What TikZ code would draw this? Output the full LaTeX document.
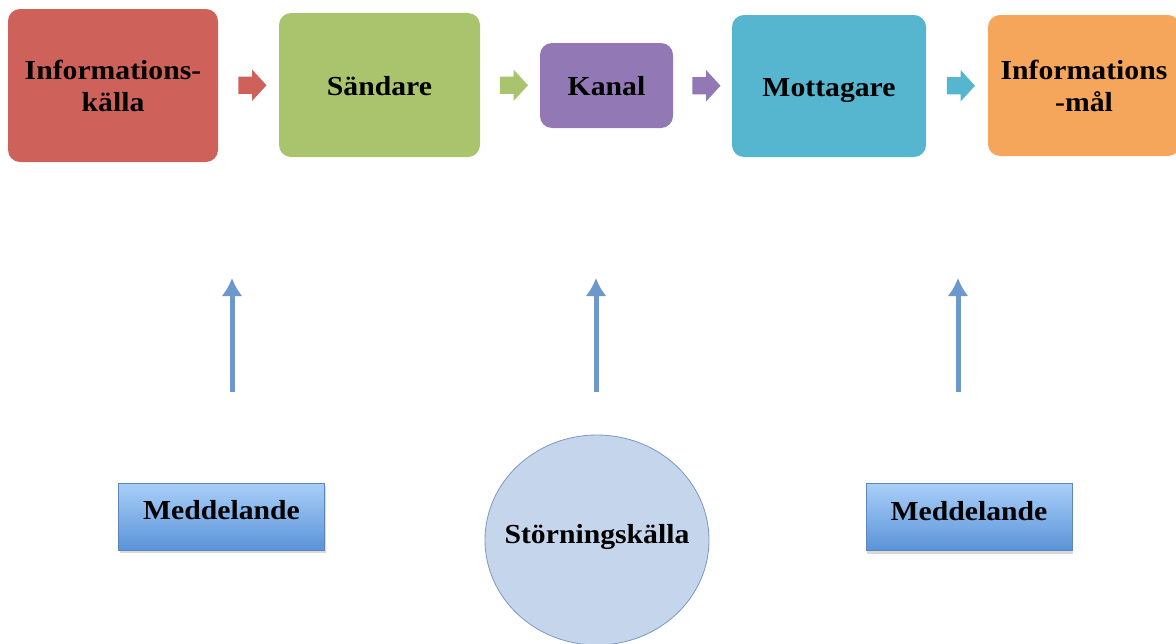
\documentclass[tikz,border=0pt]{standalone}
\usepackage{fontspec}
\setmainfont{Liberation Serif}[FakeStretch=1.08]
\usetikzlibrary{shapes.arrows,shapes.geometric,arrows.meta,shadows}
\definecolor{cred}{HTML}{CE625B}
\definecolor{cgreen}{HTML}{A9C46C}
\definecolor{cpurple}{HTML}{9279B5}
\definecolor{ccyan}{HTML}{57B6CF}
\definecolor{corange}{HTML}{F5A65A}
\definecolor{cup}{HTML}{6D98CC}
\definecolor{mtop}{HTML}{A9CFF8}
\definecolor{mbot}{HTML}{5A93D8}
\definecolor{mborder}{HTML}{5E86B8}
\definecolor{cfill}{HTML}{C5D6EC}
\definecolor{cborder}{HTML}{7A98C2}
\tikzset{
  lbl/.style={font=\fontsize{27.5}{32}\selectfont\bfseries, text=black, align=center},
  topbox/.style={lbl, rounded corners=12pt, inner sep=0pt},
  oneline/.style={text height=20pt, text depth=0pt},
  flowarrow/.style={single arrow, inner xsep=0pt, inner ysep=8.5pt, minimum height=28pt,
    minimum width=31pt, single arrow head extend=7pt, single arrow tip angle=95},
  upconn/.style={cup, line width=5pt, -{Latex[length=18pt,width=21pt]}},
  msgbox/.style={lbl, draw=mborder, line width=0.6pt, top color=mtop, bottom color=mbot,
    inner sep=0pt, minimum width=206pt, minimum height=67pt, text height=20pt, text depth=14pt,
    drop shadow={shadow xshift=1pt, shadow yshift=-3pt, opacity=0.3}},
}
\begin{document}
\begin{tikzpicture}[x=1pt,y=-1pt]
\useasboundingbox[fill=white] (0,0) rectangle (1176,643);
% top row
\node[topbox, fill=cred, minimum width=210pt, minimum height=153pt] (src) at (113,85.5) {Informations-\\källa};
\node[topbox, oneline, fill=cgreen, minimum width=201pt, minimum height=144pt] (snd) at (379.5,85) {Sändare};
\node[topbox, oneline, fill=cpurple, minimum width=133pt, minimum height=85pt] (kan) at (606.5,85.5) {Kanal};
\node[topbox, oneline, fill=ccyan, minimum width=194pt, minimum height=142pt] (mot) at (829,86) {Mottagare};
\node[topbox, fill=corange, minimum width=192pt, minimum height=141pt] (mal) at (1084,85.5) {Informations\\-mål};
% block arrows between boxes
\path (src.east) -- (snd.west) node[pos=0.5, flowarrow, fill=cred] (a1) {};
\path (snd.east) -- (kan.west) node[pos=0.5, flowarrow, fill=cgreen] (a2) {};
\path (kan.east) -- (mot.west) node[pos=0.5, flowarrow, fill=cpurple] (a3) {};
\path (mot.east) -- (mal.west) node[pos=0.5, flowarrow, fill=ccyan] (a4) {};
% bottom row
\node[msgbox] (m1) at (221.5,516.5) {Meddelande};
\node[lbl, ellipse, draw=cborder, line width=0.8pt, fill=cfill, minimum width=224pt, minimum height=210pt, inner sep=0pt, text height=20pt, text depth=14pt] (st) at (597,540) {\makebox[0pt]{Störningskälla}};
\node[msgbox] (m2) at (969,517) {Meddelande};
% up arrows
\coordinate (u1a) at (232,392);
\coordinate (u1b) at (232,278);
\coordinate (u2a) at (596,392);
\coordinate (u2b) at (596,278);
\coordinate (u3a) at (958,392);
\coordinate (u3b) at (958,278);
\draw[upconn] (u1a) -- (u1b);
\draw[upconn] (u2a) -- (u2b);
\draw[upconn] (u3a) -- (u3b);
\end{tikzpicture}
\end{document}
